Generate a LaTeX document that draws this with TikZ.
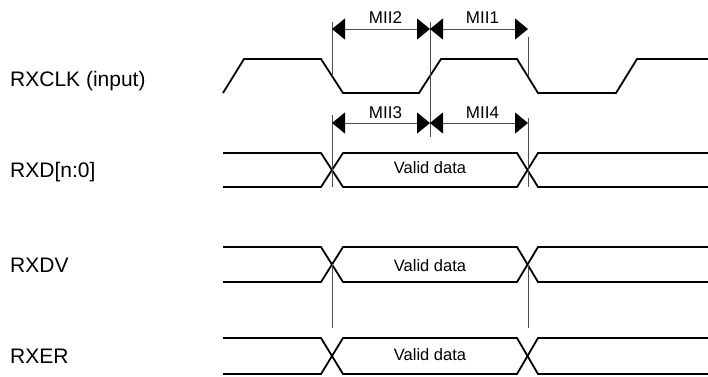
\documentclass[tikz,border=0pt]{standalone}
\usepackage{fontspec}
\setmainfont{Liberation Sans}
\usetikzlibrary{arrows.meta}
\tikzset{
  sig/.style={line width=1.8pt, line join=miter, black},
  ext/.style={line width=0.8pt, draw=black!70},
  tip/.style={Triangle[length=13pt,width=21pt,fill=black,color=black]},
  dim/.style={line width=0.8pt, draw=black!70, {Triangle[length=13pt,width=21pt,fill=black,color=black]}-{Triangle[length=13pt,width=21pt,fill=black,color=black]}},
  lbl/.style={anchor=base west, inner sep=0pt, font=\fontsize{21}{25}\selectfont},
  vd/.style={anchor=base, inner sep=0pt, font=\fontsize{16.5}{19}\selectfont},
  mii/.style={anchor=base, inner sep=0pt, font=\fontsize{17}{20}\selectfont},
}
\begin{document}
\begin{tikzpicture}[x=1pt,y=-1pt]
\useasboundingbox (0,0) rectangle (708,376);
% labels
\node[lbl] (lclk) at (10,86.5) {RXCLK (input)};
\node[lbl] (lrxd) at (10,177.5) {RXD[n:0]};
\node[lbl] (lrxdv) at (10,272) {RXDV};
\node[lbl] (lrxer) at (10,363.5) {RXER};
% clock
\draw[sig] (223,93)--(244,59)--(321,59)--(343,93)--(419,93)--(441,59)--(517,59)--(538,93)--(616,93)--(637,59)--(708,59);
% buses
\foreach \T/\B in {153/187, 247/282, 338/374}{
  \draw[sig] (223,\T)--(321,\T)--(343,\B)--(517,\B)--(538,\T)--(708,\T);
  \draw[sig] (223,\B)--(321,\B)--(343,\T)--(517,\T)--(538,\B)--(708,\B);
}
\node[vd] (vd1) at (430,173.3) {Valid data};
\node[vd] (vd2) at (430,271.7) {Valid data};
\node[vd] (vd3) at (430,360.7) {Valid data};
% extension lines
\coordinate (e1t) at (332,22); \coordinate (e1b) at (332,76);
\coordinate (e2t) at (430,22); \coordinate (e2b) at (430,137);
\coordinate (e3t) at (528,37); \coordinate (e3b) at (528,76);
\coordinate (e4t) at (332,115); \coordinate (e4b) at (332,187);
\coordinate (e5t) at (528,118); \coordinate (e5b) at (528,187);
\coordinate (e6t) at (332,264); \coordinate (e6b) at (332,328);
\coordinate (e7t) at (528,264); \coordinate (e7b) at (528,328);
\foreach \e in {1,...,7}{ \draw[ext] (e\e t)--(e\e b); }
% dimension arrows
\coordinate (d2a) at (332,29); \coordinate (d2b) at (430,29); \coordinate (d1b) at (528,29);
\coordinate (d3a) at (332,123); \coordinate (d3b) at (430,123); \coordinate (d4b) at (528,123);
\draw[dim] (d2a)--(d2b);
\draw[dim] (d2b)--(d1b);
\draw[dim] (d3a)--(d3b);
\draw[dim] (d3b)--(d4b);
\node[mii] (m2) at (385.5,23.3) {MII2};
\node[mii] (m1) at (482.5,23.3) {MII1};
\node[mii] (m3) at (385.5,118.3) {MII3};
\node[mii] (m4) at (482.5,118.3) {MII4};
\end{tikzpicture}
\end{document}
